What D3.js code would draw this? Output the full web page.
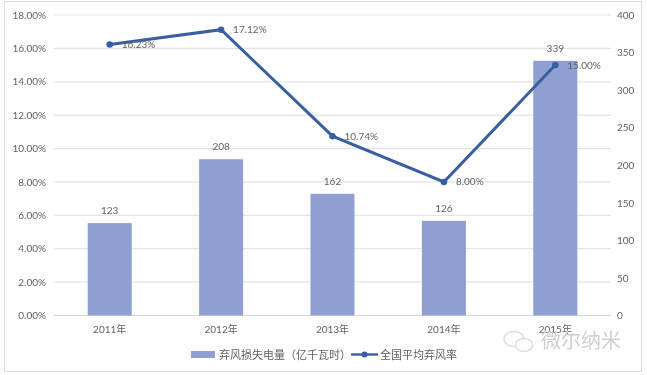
<!DOCTYPE html>
<html>
<head>
<meta charset="utf-8">
<script src="https://cdnjs.cloudflare.com/ajax/libs/d3/7.8.5/d3.min.js"></script>
<style>
  html, body { margin: 0; padding: 0; background: #fff; }
  svg { display: block; filter: blur(0.35px); }
  text { font-family: Lato, "Noto Sans CJK SC", sans-serif; fill: #5f5f5f; }
</style>
</head>
<body>
<svg></svg>
<script>
const years = ['2011年', '2012年', '2013年', '2014年', '2015年'];
const lossValues = [123, 208, 162, 126, 339];
const rateValues = [16.23, 17.12, 10.74, 8.00, 15.00];
const rateTicks = [0, 2, 4, 6, 8, 10, 12, 14, 16, 18];
const lossTicks = [0, 50, 100, 150, 200, 250, 300, 350, 400];
const seriesNames = ['弃风损失电量（亿千瓦时）', '全国平均弃风率'];

const BAR_COLOR = '#8f9fd1';
const LINE_COLOR = '#3a5fa0';
const GRID_COLOR = '#e4e4e4';

const width = 647;
const height = 375;
const plot = {left: 54, right: 611, top: 15, bottom: 315.5};

const svg = d3.select('svg').attr('width', width).attr('height', height);

// outer frame
svg.append('rect')
    .attr('x', 4.5)
    .attr('y', 1.5)
    .attr('width', 637)
    .attr('height', 370)
    .attr('fill', '#fff')
    .attr('stroke', '#dcdcdc');

const x = d3.scaleBand()
              .domain(years)
              .range([plot.left, plot.right])
              .paddingInner(0.605)
              .paddingOuter(0.3025);
const yRate = d3.scaleLinear().domain([0, 18]).range([plot.bottom, plot.top]);
const yLoss = d3.scaleLinear().domain([0, 400]).range([plot.bottom, plot.top]);

// gridlines
svg.append('g')
    .selectAll('line')
    .data(rateTicks)
    .enter()
    .append('line')
    .attr('x1', plot.left)
    .attr('x2', plot.right)
    .attr('y1', d => yRate(d))
    .attr('y2', d => yRate(d))
    .attr('stroke', d => d == 0 ? '#d4d4d4' : GRID_COLOR)
    .attr('stroke-width', 1.2);

// axes, only the labels are kept
const leftAxis = svg.append('g')
    .attr('transform', `translate(${plot.left},0)`)
    .call(d3.axisLeft(yRate).tickValues(rateTicks).tickSize(0).tickPadding(8)
              .tickFormat(d => d.toFixed(2) + '%'));
const rightAxis = svg.append('g')
    .attr('transform', `translate(${plot.right},0)`)
    .call(d3.axisRight(yLoss).tickValues(lossTicks).tickSize(0).tickPadding(6));
const bottomAxis = svg.append('g')
    .attr('transform', `translate(0,${plot.bottom})`)
    .call(d3.axisBottom(x).tickSize(0).tickPadding(10));
[leftAxis, rightAxis, bottomAxis].forEach(a => {
  a.select('.domain').remove();
  a.selectAll('text').attr('font-size', 10).style('font-family', null);
  a.attr('font-family', null);
});

// bars
svg.append('g')
    .selectAll('rect')
    .data(lossValues)
    .enter()
    .append('rect')
    .attr('x', (d, i) => x(years[i]))
    .attr('y', d => yLoss(d))
    .attr('width', x.bandwidth())
    .attr('height', d => plot.bottom - yLoss(d))
    .attr('fill', BAR_COLOR);

svg.append('g')
    .selectAll('text')
    .data(lossValues)
    .enter()
    .append('text')
    .attr('x', (d, i) => x(years[i]) + x.bandwidth() / 2)
    .attr('y', d => yLoss(d) - 9)
    .attr('text-anchor', 'middle')
    .attr('font-size', 10)
    .text(d => d);

// rate line
const cx = (d, i) => x(years[i]) + x.bandwidth() / 2;
const line = d3.line().x(cx).y(d => yRate(d));

svg.append('path')
    .datum(rateValues)
    .attr('d', line)
    .attr('fill', 'none')
    .attr('stroke', LINE_COLOR)
    .attr('stroke-width', 3);

svg.append('g')
    .selectAll('circle')
    .data(rateValues)
    .enter()
    .append('circle')
    .attr('cx', cx)
    .attr('cy', d => yRate(d))
    .attr('r', 3.3)
    .attr('fill', LINE_COLOR);

svg.append('g')
    .selectAll('text')
    .data(rateValues)
    .enter()
    .append('text')
    .attr('x', (d, i) => cx(d, i) + 12)
    .attr('y', d => yRate(d) + 3.5)
    .attr('font-size', 10)
    .text(d => d.toFixed(2) + '%');

// legend
const legend = svg.append('g');
legend.append('rect')
    .attr('x', 191)
    .attr('y', 351)
    .attr('width', 24)
    .attr('height', 7)
    .attr('fill', BAR_COLOR);
legend.append('text')
    .attr('x', 219)
    .attr('y', 359)
    .attr('font-size', 11)
    .text(seriesNames[0]);
legend.append('line')
    .attr('x1', 351)
    .attr('x2', 378)
    .attr('y1', 354.5)
    .attr('y2', 354.5)
    .attr('stroke', LINE_COLOR)
    .attr('stroke-width', 2.4);
legend.append('circle')
    .attr('cx', 364.5)
    .attr('cy', 354.5)
    .attr('r', 3)
    .attr('fill', LINE_COLOR);
legend.append('text')
    .attr('x', 380)
    .attr('y', 359)
    .attr('font-size', 11)
    .text(seriesNames[1]);

// watermark
const mark = svg.append('g');
mark.append('ellipse')
    .attr('cx', 514).attr('cy', 339).attr('rx', 10).attr('ry', 7.5)
    .attr('fill', 'none').attr('stroke', '#dedede').attr('stroke-width', 1.5);
mark.append('ellipse')
    .attr('cx', 524).attr('cy', 345).attr('rx', 8.5).attr('ry', 6.5)
    .attr('fill', '#fff').attr('stroke', '#dedede').attr('stroke-width', 1.5);
mark.append('text')
    .attr('x', 541)
    .attr('y', 348)
    .attr('font-size', 20)
    .style('fill', '#cfcfcf')
    .text('微尔纳米');
</script>
</body>
</html>
